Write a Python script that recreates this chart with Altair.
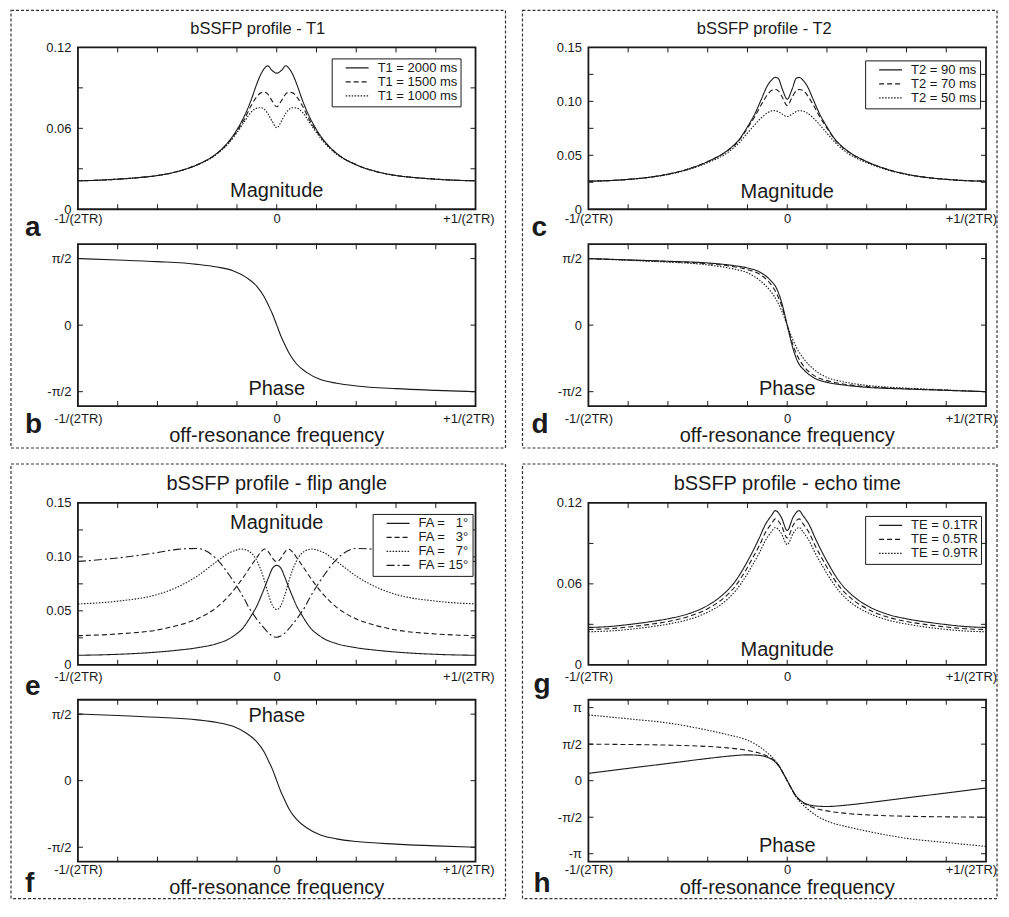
import math
import altair as alt
import pandas as pd

FONT = "Liberation Sans"
INK = "#1a1a1a"
W, H = 398, 162

# ---------------- data ----------------
# panel a / c grid (off-resonance frequency, units of 1/TR)
x_ac = [-0.5, -0.45, -0.4, -0.35, -0.3, -0.25, -0.2, -0.15, -0.12, -0.1, -0.08, -0.065, -0.05, -0.04,
        -0.03, -0.023, -0.012, 0.0, 0.012, 0.023, 0.03, 0.04, 0.05, 0.065, 0.08, 0.1, 0.12, 0.15, 0.2,
        0.25, 0.3, 0.35, 0.4, 0.45, 0.5]
t1_labels = ["T1 = 2000 ms", "T1 = 1500 ms", "T1 = 1000 ms"]
mag_t1_2000 = [0.0211, 0.0215, 0.0223, 0.0234, 0.0250, 0.0280, 0.0330, 0.0416, 0.0505, 0.0590, 0.0700, 0.0805,
               0.0930, 0.1001, 0.1048, 0.1064, 0.1030, 0.1009, 0.1030, 0.1064, 0.1048, 0.1001, 0.0930, 0.0805,
               0.0700, 0.0590, 0.0505, 0.0416, 0.0330, 0.0280, 0.0250, 0.0234, 0.0223, 0.0215, 0.0211]
mag_t1_1500 = [0.0211, 0.0215, 0.0223, 0.0234, 0.0250, 0.0280, 0.0330, 0.0414, 0.0500, 0.0580, 0.0675, 0.0765,
               0.0835, 0.0863, 0.0868, 0.0856, 0.0805, 0.0760, 0.0805, 0.0856, 0.0868, 0.0863, 0.0835, 0.0765,
               0.0675, 0.0580, 0.0500, 0.0414, 0.0330, 0.0280, 0.0250, 0.0234, 0.0223, 0.0215, 0.0211]
mag_t1_1000 = [0.0211, 0.0215, 0.0223, 0.0234, 0.0250, 0.0279, 0.0328, 0.0410, 0.0492, 0.0568, 0.0655, 0.0718,
               0.0750, 0.0753, 0.0738, 0.0712, 0.0655, 0.0604, 0.0655, 0.0712, 0.0738, 0.0753, 0.0750, 0.0718,
               0.0655, 0.0568, 0.0492, 0.0410, 0.0328, 0.0279, 0.0250, 0.0234, 0.0223, 0.0215, 0.0211]

t2_labels = ["T2 = 90 ms", "T2 = 70 ms", "T2 = 50 ms"]
mag_t2_90 = [0.0260, 0.0265, 0.0277, 0.0295, 0.0325, 0.0372, 0.0442, 0.0546, 0.0650, 0.0763, 0.0895, 0.1020,
             0.1144, 0.1195, 0.1222, 0.1215, 0.1110, 0.1020, 0.1110, 0.1215, 0.1222, 0.1195, 0.1144, 0.1020,
             0.0895, 0.0763, 0.0650, 0.0546, 0.0442, 0.0372, 0.0325, 0.0295, 0.0277, 0.0265, 0.0260]
mag_t2_70 = [0.0260, 0.0265, 0.0277, 0.0295, 0.0325, 0.0372, 0.0441, 0.0543, 0.0643, 0.0752, 0.0868, 0.0970,
             0.1060, 0.1100, 0.1110, 0.1100, 0.1035, 0.0960, 0.1035, 0.1100, 0.1110, 0.1100, 0.1060, 0.0970,
             0.0868, 0.0752, 0.0643, 0.0543, 0.0441, 0.0372, 0.0325, 0.0295, 0.0277, 0.0265, 0.0260]
mag_t2_50 = [0.0260, 0.0265, 0.0277, 0.0294, 0.0322, 0.0366, 0.0431, 0.0525, 0.0620, 0.0705, 0.0790, 0.0848,
             0.0893, 0.0910, 0.0914, 0.0906, 0.0880, 0.0860, 0.0880, 0.0906, 0.0914, 0.0910, 0.0893, 0.0848,
             0.0790, 0.0705, 0.0620, 0.0525, 0.0431, 0.0366, 0.0322, 0.0294, 0.0277, 0.0265, 0.0260]

# panel e grid
x_e = [-0.5, -0.4, -0.3, -0.25, -0.2, -0.15, -0.12, -0.1, -0.09, -0.08, -0.07, -0.06, -0.05, -0.04, -0.03,
       -0.02, -0.01, 0.0, 0.01, 0.02, 0.03, 0.04, 0.05, 0.06, 0.07, 0.08, 0.09, 0.1, 0.12, 0.15, 0.2, 0.25,
       0.3, 0.4, 0.5]
fa_labels = ["FA = \u20071\u00b0", "FA = \u20073\u00b0", "FA = \u20077\u00b0", "FA = 15\u00b0"]
mag_fa1 = [0.0088, 0.0097, 0.0118, 0.0135, 0.0158, 0.0197, 0.0240, 0.0290, 0.0320, 0.0365, 0.0420, 0.0480,
           0.0545, 0.0630, 0.0720, 0.0815, 0.0898, 0.0921, 0.0898, 0.0815, 0.0720, 0.0630, 0.0545, 0.0480,
           0.0420, 0.0365, 0.0320, 0.0290, 0.0240, 0.0197, 0.0158, 0.0135, 0.0118, 0.0097, 0.0088]
mag_fa3 = [0.0270, 0.0286, 0.0323, 0.0364, 0.0425, 0.0535, 0.0640, 0.0730, 0.0780, 0.0832, 0.0888, 0.0942,
           0.0995, 0.1045, 0.1073, 0.1042, 0.0985, 0.0955, 0.0985, 0.1042, 0.1073, 0.1045, 0.0995, 0.0942,
           0.0888, 0.0832, 0.0780, 0.0730, 0.0640, 0.0535, 0.0425, 0.0364, 0.0323, 0.0286, 0.0270]
mag_fa7 = [0.0564, 0.0590, 0.0652, 0.0720, 0.0822, 0.0960, 0.1036, 0.1065, 0.1073, 0.1068, 0.1052, 0.1022,
           0.0965, 0.0880, 0.0770, 0.0640, 0.0545, 0.0512, 0.0545, 0.0640, 0.0770, 0.0880, 0.0965, 0.1022,
           0.1052, 0.1068, 0.1073, 0.1065, 0.1036, 0.0960, 0.0822, 0.0720, 0.0652, 0.0590, 0.0564]
mag_fa15 = [0.0958, 0.0990, 0.1040, 0.1070, 0.1078, 0.0975, 0.0835, 0.0725, 0.0665, 0.0600, 0.0530, 0.0475,
            0.0422, 0.0377, 0.0332, 0.0292, 0.0266, 0.0255, 0.0266, 0.0292, 0.0332, 0.0377, 0.0422, 0.0475,
            0.0530, 0.0600, 0.0665, 0.0725, 0.0835, 0.0975, 0.1078, 0.1070, 0.1040, 0.0990, 0.0958]

# panel g grid
x_g = [-0.5, -0.45, -0.4, -0.35, -0.3, -0.25, -0.2, -0.17, -0.13, -0.1, -0.09, -0.07, -0.055, -0.04, -0.03,
       -0.015, 0.0, 0.015, 0.03, 0.04, 0.055, 0.07, 0.09, 0.1, 0.13, 0.17, 0.2, 0.25, 0.3, 0.35, 0.4, 0.45, 0.5]
te_labels = ["TE = 0.1TR", "TE = 0.5TR", "TE = 0.9TR"]
mag_te01 = [0.0277, 0.0283, 0.0298, 0.0317, 0.0341, 0.0377, 0.0440, 0.0500, 0.0622, 0.0767, 0.0822, 0.0942,
            0.1040, 0.1105, 0.1143, 0.1095, 0.0996, 0.1095, 0.1143, 0.1105, 0.1040, 0.0942, 0.0822, 0.0767,
            0.0622, 0.0500, 0.0440, 0.0377, 0.0341, 0.0317, 0.0298, 0.0283, 0.0277]
mag_te05 = [0.0262, 0.0267, 0.0280, 0.0298, 0.0321, 0.0356, 0.0416, 0.0471, 0.0585, 0.0722, 0.0775, 0.0885,
            0.0980, 0.1045, 0.1082, 0.1035, 0.0940, 0.1035, 0.1082, 0.1045, 0.0980, 0.0885, 0.0775, 0.0722,
            0.0585, 0.0471, 0.0416, 0.0356, 0.0321, 0.0298, 0.0280, 0.0267, 0.0262]
mag_te09 = [0.0245, 0.0250, 0.0262, 0.0279, 0.0302, 0.0334, 0.0390, 0.0440, 0.0548, 0.0676, 0.0726, 0.0830,
            0.0920, 0.0985, 0.1018, 0.0975, 0.0891, 0.0975, 0.1018, 0.0985, 0.0920, 0.0830, 0.0726, 0.0676,
            0.0548, 0.0440, 0.0390, 0.0334, 0.0302, 0.0279, 0.0262, 0.0250, 0.0245]

# phase panels (radians)
x_bf = [-0.5, -0.4, -0.3, -0.2, -0.15, -0.11, -0.075, -0.05, -0.032, -0.02, -0.011, 0.0, 0.011, 0.02, 0.032,
        0.05, 0.075, 0.11, 0.15, 0.2, 0.3, 0.4, 0.5]
phase_b = [1.571, 1.539, 1.499, 1.435, 1.371, 1.285, 1.116, 0.917, 0.678, 0.450, 0.270, 0.0, -0.270, -0.450,
           -0.678, -0.917, -1.116, -1.285, -1.371, -1.435, -1.499, -1.539, -1.571]
phase_f = [1.571, 1.540, 1.497, 1.436, 1.373, 1.282, 1.112, 0.915, 0.685, 0.455, 0.272, 0.0, -0.272, -0.455,
           -0.685, -0.915, -1.112, -1.282, -1.373, -1.436, -1.497, -1.540, -1.571]

x_d = [-0.5, -0.4, -0.3, -0.2, -0.135, -0.1, -0.068, -0.043, -0.026, -0.014, 0.0, 0.014, 0.026, 0.043, 0.068,
       0.1, 0.135, 0.2, 0.3, 0.4, 0.5]
phase_t2_90 = [1.571, 1.540, 1.508, 1.468, 1.405, 1.350, 1.247, 1.066, 0.853, 0.537, 0.0, -0.537, -0.853,
               -1.066, -1.247, -1.350, -1.405, -1.468, -1.508, -1.540, -1.571]
phase_t2_70 = [1.571, 1.535, 1.500, 1.450, 1.380, 1.310, 1.192, 0.987, 0.734, 0.458, 0.0, -0.458, -0.734,
               -0.987, -1.192, -1.310, -1.380, -1.450, -1.500, -1.535, -1.571]
phase_t2_50 = [1.571, 1.530, 1.488, 1.421, 1.326, 1.235, 1.050, 0.813, 0.576, 0.339, 0.0, -0.339, -0.576,
               -0.813, -1.050, -1.235, -1.326, -1.421, -1.488, -1.530, -1.571]

x_h = [-0.5, -0.4, -0.3, -0.2, -0.15, -0.1, -0.075, -0.05, -0.035, -0.02, -0.01, 0.0, 0.01, 0.02, 0.035, 0.05,
       0.075, 0.1, 0.15, 0.2, 0.3, 0.4, 0.5]
phase_te01 = [0.314, 0.530, 0.740, 0.955, 1.050, 1.110, 1.095, 1.010, 0.870, 0.600, 0.310, 0.0, -0.310, -0.600,
              -0.870, -1.010, -1.095, -1.110, -1.050, -0.955, -0.740, -0.530, -0.314]
phase_te05 = [1.571, 1.555, 1.530, 1.470, 1.410, 1.300, 1.210, 1.050, 0.900, 0.620, 0.320, 0.0, -0.320, -0.620,
              -0.900, -1.050, -1.210, -1.300, -1.410, -1.470, -1.530, -1.555, -1.571]
phase_te09 = [2.827, 2.660, 2.480, 2.170, 1.980, 1.740, 1.520, 1.200, 0.960, 0.640, 0.330, 0.0, -0.330, -0.640,
              -0.960, -1.200, -1.520, -1.740, -1.980, -2.170, -2.480, -2.660, -2.827]

# tick positions and label anchor positions
x_ticks = [-0.4, -0.3, -0.2, -0.1, 0.0, 0.1, 0.2, 0.3, 0.4]
xlab_left_col = [-0.5, 0.0, 0.482]
xlab_right_col = [-0.5, 0.0, 0.462]
dash3 = [[1, 0], [5, 3], [1.5, 1.5]]
dash4 = [[1, 0], [5, 3], [1.5, 1.5], [8, 3, 2, 3]]

PI = math.pi
XLAB = "datum.value < -0.25 ? '-1/(2TR)' : (datum.value > 0.25 ? '+1/(2TR)' : '0')"
MAGLAB = "datum.value == 0 ? '0' : format(datum.value, '.2f')"
PHLAB = ("abs(datum.value - PI/2) < 0.01 ? '\u03c0/2' : (abs(datum.value + PI/2) < 0.01 ? '-\u03c0/2' : "
         "(abs(datum.value - PI) < 0.01 ? '\u03c0' : (abs(datum.value + PI) < 0.01 ? '-\u03c0' : '0')))")

ONE = pd.DataFrame({"k": [0]})


def table(xs, labels, series):
    rows = []
    for lab, vals in zip(labels, series):
        for xv, yv in zip(xs, vals):
            rows.append({"x": xv, "y": yv, "s": lab})
    return pd.DataFrame(rows)


def txt(s, x, y, size, weight="normal", align="center"):
    return alt.Chart(ONE).mark_text(
        text=s, font=FONT, fontSize=size, fontWeight=weight, align=align,
        baseline="alphabetic", color=INK
    ).encode(x=alt.value(x), y=alt.value(y))


def panel(df, ydom, yvals, ylab, yticks, xlabpad, xlabvals, labels=None, dashes=None, legpos=None,
          texts=(), box=None):
    xs = alt.Scale(domain=[-0.5, 0.5], nice=False, zero=False)
    ys = alt.Scale(domain=ydom, nice=False, zero=False)
    xax = alt.Axis(values=xlabvals, labelExpr=XLAB, ticks=False, domain=False,
                   grid=False, labelPadding=xlabpad, labelFontSize=13, labelFont=FONT,
                   labelColor=INK, labelFlush=False, labelOverlap=False)
    yax = alt.Axis(values=yvals, labelExpr=ylab, ticks=False, domain=False, grid=False,
                   labelPadding=7, labelFontSize=13, labelFont=FONT, labelColor=INK,
                   labelFlush=False, labelOverlap=False)
    enc = dict(
        x=alt.X("x:Q", scale=xs, title=None, axis=xax),
        y=alt.Y("y:Q", scale=ys, title=None, axis=yax),
    )
    if labels is not None:
        if legpos is not None:
            leg = alt.Legend(title=None, orient="none", legendX=legpos[0], legendY=legpos[1],
                             symbolType="stroke", symbolSize=529, symbolStrokeWidth=1.2,
                             symbolStrokeColor=INK, labelFont=FONT, labelFontSize=13,
                             labelColor=INK, padding=3, rowPadding=0, clipHeight=13,
                             strokeColor=INK, fillColor="white", symbolOffset=10, labelOffset=8,
                             cornerRadius=0)
        else:
            leg = None
        enc["strokeDash"] = alt.StrokeDash(
            "s:N", sort=labels, scale=alt.Scale(domain=labels, range=dashes), legend=leg)
    lines = alt.Chart(df).mark_line(interpolate="monotone", color=INK, strokeWidth=1.1).encode(**enc)

    xt = pd.DataFrame({"t": x_ticks})
    yt = pd.DataFrame({"t": yticks})
    rule = dict(color=INK, strokeWidth=1)
    tb = alt.Chart(xt).mark_rule(**rule).encode(x=alt.X("t:Q", scale=xs, title=None, axis=xax),
                                               y=alt.value(H), y2=alt.value(H - 5))
    tt = alt.Chart(xt).mark_rule(**rule).encode(x=alt.X("t:Q", scale=xs, title=None, axis=xax),
                                               y=alt.value(0), y2=alt.value(5))
    tl = alt.Chart(yt).mark_rule(**rule).encode(y=alt.Y("t:Q", scale=ys, title=None, axis=yax),
                                               x=alt.value(0), x2=alt.value(5))
    tr = alt.Chart(yt).mark_rule(**rule).encode(y=alt.Y("t:Q", scale=ys, title=None, axis=yax),
                                               x=alt.value(W), x2=alt.value(W - 5))
    layers = []
    if box is not None:
        layers.append(alt.Chart(ONE).mark_rect(fill="white", fillOpacity=0, stroke="#333",
                                               strokeWidth=1.2, strokeDash=[3, 2]).encode(
            x=alt.value(box[0]), x2=alt.value(box[1]), y=alt.value(box[2]), y2=alt.value(box[3])))
    layers += [lines, tb, tt, tl, tr]
    layers += [txt(*t) for t in texts]
    return alt.layer(*layers).properties(width=W, height=H)


# ---------------- panels ----------------
p_a = panel(table(x_ac, t1_labels, [mag_t1_2000, mag_t1_1500, mag_t1_1000]),
            [0, 0.12], [0, 0.06, 0.12], MAGLAB, [0.03, 0.06, 0.09], 3, xlab_left_col,
            labels=t1_labels, dashes=dash3, legpos=(254, 11),
            texts=[("bSSFP profile - T1", 180, -13, 16.5), ("Magnitude", 199, 150, 20),
                   ("a", -53, 189, 28, "bold", "left")],
            box=(-67, 428, -37, 401))
p_b = panel(table(x_bf, ["phase"], [phase_b]),
            [-1.91, 1.91], [-PI / 2, 0, PI / 2], PHLAB, [-PI / 2, 0, PI / 2], 6, xlab_left_col,
            texts=[("Phase", 199, 151, 20), ("off-resonance frequency", 199, 198, 20),
                   ("b", -53, 189, 28, "bold", "left")])
p_c = panel(table(x_ac, t2_labels, [mag_t2_90, mag_t2_70, mag_t2_50]),
            [0, 0.15], [0, 0.05, 0.10, 0.15], MAGLAB, [0.025, 0.05, 0.075, 0.1, 0.125], 3,
            xlab_right_col, labels=t2_labels, dashes=dash3, legpos=(277, 13),
            texts=[("bSSFP profile - T2", 176, -13, 16.5), ("Magnitude", 199, 151, 20),
                   ("c", -57, 189, 28, "bold", "left")],
            box=(-66, 409, -37, 401))
p_d = panel(table(x_d, t2_labels, [phase_t2_90, phase_t2_70, phase_t2_50]),
            [-1.91, 1.91], [-PI / 2, 0, PI / 2], PHLAB, [-PI / 2, 0, PI / 2], 6, xlab_right_col,
            labels=t2_labels, dashes=dash3,
            texts=[("Phase", 199, 151, 20), ("off-resonance frequency", 199, 198, 20),
                   ("d", -57, 189, 28, "bold", "left")])
p_e = panel(table(x_e, fa_labels, [mag_fa1, mag_fa3, mag_fa7, mag_fa15]),
            [0, 0.15], [0, 0.05, 0.10, 0.15], MAGLAB, [0.025, 0.05, 0.075, 0.1, 0.125], 6,
            xlab_left_col, labels=fa_labels, dashes=dash4, legpos=(295, 11),
            texts=[("bSSFP profile - flip angle", 199, -13, 20), ("Magnitude", 199, 26, 20),
                   ("e", -53, 192, 28, "bold", "left")],
            box=(-67, 428, -39, 396))
p_f = panel(table(x_bf, ["phase"], [phase_f]),
            [-1.91, 1.91], [-PI / 2, 0, PI / 2], PHLAB, [-PI / 2, 0, PI / 2], 2, xlab_left_col,
            texts=[("Phase", 199, 22, 20), ("off-resonance frequency", 199, 194, 20),
                   ("f", -53, 192, 28, "bold", "left")])
p_g = panel(table(x_g, te_labels, [mag_te01, mag_te05, mag_te09]),
            [0, 0.12], [0, 0.06, 0.12], MAGLAB, [0.03, 0.06, 0.09], 6, xlab_right_col,
            labels=te_labels, dashes=dash3, legpos=(277, 13),
            texts=[("bSSFP profile - echo time", 199, -13, 20), ("Magnitude", 199, 153, 20),
                   ("g", -55, 190, 28, "bold", "left")],
            box=(-66, 409, -39, 396))
p_h = panel(table(x_h, te_labels, [phase_te01, phase_te05, phase_te09]),
            [-3.48, 3.48], [-PI, -PI / 2, 0, PI / 2, PI], PHLAB, [-PI, -PI / 2, 0, PI / 2, PI], 2,
            xlab_right_col, labels=te_labels, dashes=dash3,
            texts=[("Phase", 199, 152, 20), ("off-resonance frequency", 199, 194, 20),
                   ("h", -55, 192, 28, "bold", "left")])

spacer = alt.Chart(ONE).mark_point(opacity=0).encode(
    x=alt.value(0), y=alt.value(0)
).properties(width=W, height=27, view=alt.ViewBackground(strokeOpacity=0))

chart = alt.ConcatChart(
    concat=[p_a, p_c, p_b, p_d, spacer, spacer, p_e, p_g, p_f, p_h],
    columns=2, spacing={"row": 35, "column": 113}, bounds="flush"
).resolve_scale(strokeDash="independent").resolve_legend(strokeDash="independent").properties(
    padding={"left": 1, "top": 0, "right": 2, "bottom": 3}, background="white"
).configure_view(stroke=INK, strokeWidth=1.8)

chart.save("out.html", embed_options={"renderer": "svg", "actions": False})
